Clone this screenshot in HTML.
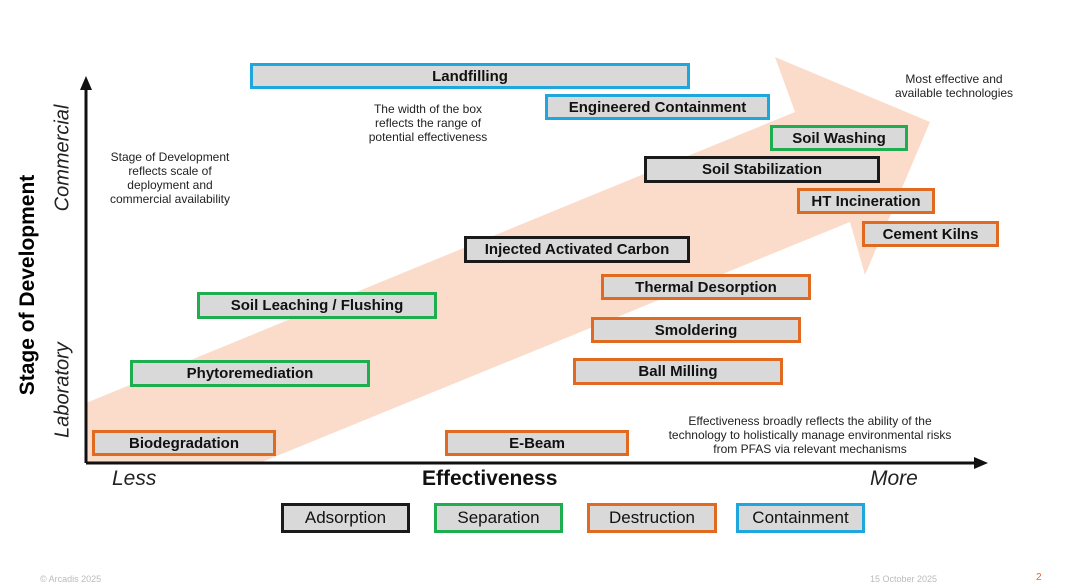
<!DOCTYPE html>
<html><head><style>
body{margin:0;width:1068px;height:580px;background:#fff;position:relative;overflow:hidden;font-family:"Liberation Sans",sans-serif}
.b{position:absolute;box-sizing:border-box;border:3px solid;background:#d9d9d9;font-weight:bold;font-size:15px;display:flex;align-items:center;justify-content:center;color:#111}
.k{border-color:#1a1a1a}.g{border-color:#1fae4f}.o{border-color:#e06a1f}.c{border-color:#1ea6dd}
.l{font-weight:normal;font-size:17px}
.t{position:absolute;font-size:12px;text-align:center;color:#222;line-height:14px}
</style></head><body>
<svg width="1068" height="580" style="position:absolute;left:0;top:0">
<polygon points="86,403 795,112 775,57 930,122 865,275 850,222 262,462 86,462" fill="#fbdccb"/>
<line x1="86" y1="463" x2="86" y2="86" stroke="#111" stroke-width="3"/>
<polygon points="80,90 86,76 92,90" fill="#111"/>
<line x1="86" y1="463" x2="978" y2="463" stroke="#111" stroke-width="3"/>
<polygon points="974,457 988,463 974,469" fill="#111"/>
</svg>
<div class="b c" style="left:250px;top:63px;width:440px;height:26px">Landfilling</div>
<div class="b c" style="left:545px;top:94px;width:225px;height:26px">Engineered Containment</div>
<div class="b g" style="left:770px;top:125px;width:138px;height:26px">Soil Washing</div>
<div class="b k" style="left:644px;top:156px;width:236px;height:27px">Soil Stabilization</div>
<div class="b o" style="left:797px;top:188px;width:138px;height:26px">HT Incineration</div>
<div class="b o" style="left:862px;top:221px;width:137px;height:26px">Cement Kilns</div>
<div class="b k" style="left:464px;top:236px;width:226px;height:27px">Injected Activated Carbon</div>
<div class="b o" style="left:601px;top:274px;width:210px;height:26px">Thermal Desorption</div>
<div class="b g" style="left:197px;top:292px;width:240px;height:27px">Soil Leaching / Flushing</div>
<div class="b o" style="left:591px;top:317px;width:210px;height:26px">Smoldering</div>
<div class="b g" style="left:130px;top:360px;width:240px;height:27px">Phytoremediation</div>
<div class="b o" style="left:573px;top:358px;width:210px;height:27px">Ball Milling</div>
<div class="b o" style="left:92px;top:430px;width:184px;height:26px">Biodegradation</div>
<div class="b o" style="left:445px;top:430px;width:184px;height:26px">E-Beam</div>
<div class="b k l" style="left:281px;top:503px;width:129px;height:30px">Adsorption</div>
<div class="b g l" style="left:434px;top:503px;width:129px;height:30px">Separation</div>
<div class="b o l" style="left:587px;top:503px;width:130px;height:30px">Destruction</div>
<div class="b c l" style="left:736px;top:503px;width:129px;height:30px">Containment</div>
<div class="t" style="left:340px;top:102px;width:176px">The width of the box<br>reflects the range of<br>potential effectiveness</div>
<div class="t" style="left:95px;top:150px;width:150px">Stage of Development<br>reflects scale of<br>deployment and<br>commercial availability</div>
<div class="t" style="left:880px;top:72px;width:148px">Most effective and<br>available technologies</div>
<div class="t" style="left:640px;top:414px;width:340px">Effectiveness broadly reflects the ability of the<br>technology to holistically manage environmental risks<br>from PFAS via relevant mechanisms</div>
<div style="position:absolute;left:112px;top:467px;font-size:21px;font-style:italic;color:#222">Less</div>
<div style="position:absolute;left:870px;top:467px;font-size:21px;font-style:italic;color:#222">More</div>
<div style="position:absolute;left:422px;top:467px;font-size:21px;font-weight:bold;color:#111">Effectiveness</div>
<div style="position:absolute;left:28px;top:285px;transform:translate(-50%,-50%) rotate(-90deg);font-size:21px;font-weight:bold;white-space:nowrap">Stage of Development</div>
<div style="position:absolute;left:63px;top:158px;transform:translate(-50%,-50%) rotate(-90deg);font-size:20px;font-style:italic;white-space:nowrap;color:#222">Commercial</div>
<div style="position:absolute;left:63px;top:390px;transform:translate(-50%,-50%) rotate(-90deg);font-size:20px;font-style:italic;white-space:nowrap;color:#222">Laboratory</div>
<div style="position:absolute;left:40px;top:574px;font-size:9px;color:#bbb">© Arcadis 2025</div>
<div style="position:absolute;left:870px;top:574px;font-size:9px;color:#bbb">15 October 2025</div>
<div style="position:absolute;left:1036px;top:572px;font-size:10px;color:#e06a1f">2</div>
</body></html>
